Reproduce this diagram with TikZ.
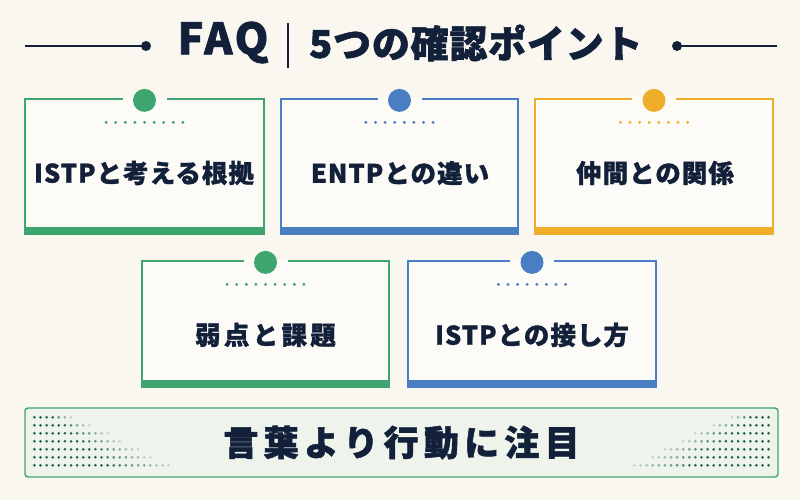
\documentclass[tikz,border=0pt]{standalone}
\usepackage{fontspec}
\setmainfont{Noto Sans CJK JP}
\newfontfamily\titlefont{Noto Sans CJK JP}[LetterSpace=2, FakeBold=1.5]
\newfontfamily\faqfont{Noto Sans CJK JP}[LetterSpace=6, FakeBold=1.5]
\newfontfamily\cardfont{Noto Sans CJK JP}[LetterSpace=4, FakeBold=1.2]
\newfontfamily\cardwidefont{Noto Sans CJK JP}[LetterSpace=13, FakeBold=1.2]
\newfontfamily\bannerfont{Noto Sans CJK JP}[LetterSpace=15, FakeBold=1.5]
\usepackage{tikz}
\usetikzlibrary{calc, positioning}
\definecolor{pagebg}{HTML}{FAF7F0}
\definecolor{cardbg}{HTML}{FDFBF7}
\definecolor{bannerbg}{HTML}{EEF4EC}
\definecolor{inknavy}{HTML}{12203A}
\definecolor{faqgreen}{HTML}{3FA56E}
\definecolor{faqblue}{HTML}{4A7EC2}
\definecolor{faqorange}{HTML}{EFAE2A}
\tikzset{
  card/.style={
    rectangle, draw=#1, line width=1.2pt, fill=cardbg,
    inner sep=0pt
  },
  cardtext/.style={
    font=\cardfont\bfseries\fontsize{25.5}{30}\selectfont,
    text=inknavy, inner sep=0pt, anchor=center
  },
  titletext/.style={
    font=\titlefont\bfseries\fontsize{38}{44}\selectfont,
    text=inknavy, inner sep=0pt
  },
  rulebar/.style={draw=inknavy, line width=1.6pt},
}

\begin{document}
\begin{tikzpicture}[x=1pt, y=-1pt]

  \fill[pagebg] (0,0) rectangle (800,500);
  \useasboundingbox (0,0) rectangle (800,500);

  % title
  \node[titletext, font=\faqfont\bfseries\fontsize{43}{46}\selectfont]
    (faq) at (223,42.5) {FAQ};
  \coordinate (sepA) at (288,23);
  \coordinate (sepB) at (288,68);
  \node[titletext, anchor=west] (points) at (309,43) {5つの確認ポイント};
  \draw[inknavy, line width=1.4pt] (sepA) -- (sepB);
  \coordinate (lineL) at (25,46);
  \coordinate (dotL) at (146,46);
  \coordinate (dotR) at (677,46);
  \coordinate (lineR) at (777,46);
  \draw[rulebar] (lineL) -- (dotL);
  \draw[rulebar] (dotR) -- (lineR);
  \fill[inknavy] (dotL) circle (5);
  \fill[inknavy] (dotR) circle (5);

  % cards, upper row
  \node[card=faqgreen, minimum width=239, minimum height=135] (why) at (144.5,166.5) {};
  \node[card=faqblue, minimum width=237, minimum height=135] (entp) at (399.5,166.5) {};
  \node[card=faqorange, minimum width=238, minimum height=135] (mates) at (654,166.5) {};
  % cards, lower row
  \node[card=faqgreen, minimum width=247, minimum height=126] (weak) at (265.5,324) {};
  \node[card=faqblue, minimum width=248, minimum height=126] (deal) at (532,324) {};

  \foreach \c/\col/\n in {why/faqgreen/9, entp/faqblue/8, mates/faqorange/8,
                          weak/faqgreen/9, deal/faqblue/8} {
    \fill[\col] (\c.south west) rectangle ([yshift=8pt]\c.south east);
    \fill[cardbg] ([xshift=-22pt,yshift=-1.2pt]\c.north)
      rectangle ([xshift=22pt,yshift=1.2pt]\c.north);
    \fill[\col] ([yshift=-2pt]\c.north) circle (11.5);
    \foreach \k in {1,...,\n}
      \fill[\col] ($(\c.north)+(\k*9.6-\n*4.8-4.8,24)$) circle (1.6);
  }

  \node[cardtext] (whyT) at (144,173) {ISTPと考える根拠};
  \node[cardtext] (entpT) at (400,173) {ENTPとの違い};
  \node[cardtext] (matesT) at (655,173) {仲間との関係};
  \node[cardtext, font=\cardwidefont\bfseries\fontsize{25.5}{30}\selectfont]
    (weakT) at (265.5,335) {弱点と課題};
  \node[cardtext] (dealT) at (532,335) {ISTPとの接し方};

  % banner
  \node[rectangle, rounded corners=3pt, draw=faqgreen, line width=1.4pt,
    fill=bannerbg, minimum width=753, minimum height=69, inner sep=0pt]
    (banner) at (401.5,442.5) {};
  \foreach \r/\n in {0/7, 1/10, 2/13, 3/15, 4/18, 5/20, 6/23} {
    \foreach \k in {1,...,\n} {
      \pgfmathsetmacro{\op}{max(0.15,min(1,1.8*(1-\k/\n)+0.2))}
      \fill[faqgreen!65!black, opacity=\op]
        ($(banner.north west)+(4+\k*6.1,10+\r*8)$) circle (1.5);
      \fill[faqgreen!65!black, opacity=\op]
        ($(banner.north east)+(-4-\k*6.1,10+\r*8)$) circle (1.5);
    }
  }
  \node[font=\bannerfont\bfseries\fontsize{35}{40}\selectfont, text=inknavy,
    inner sep=0pt] (motto) at (banner.center) {言葉より行動に注目};

\end{tikzpicture}
\end{document}
